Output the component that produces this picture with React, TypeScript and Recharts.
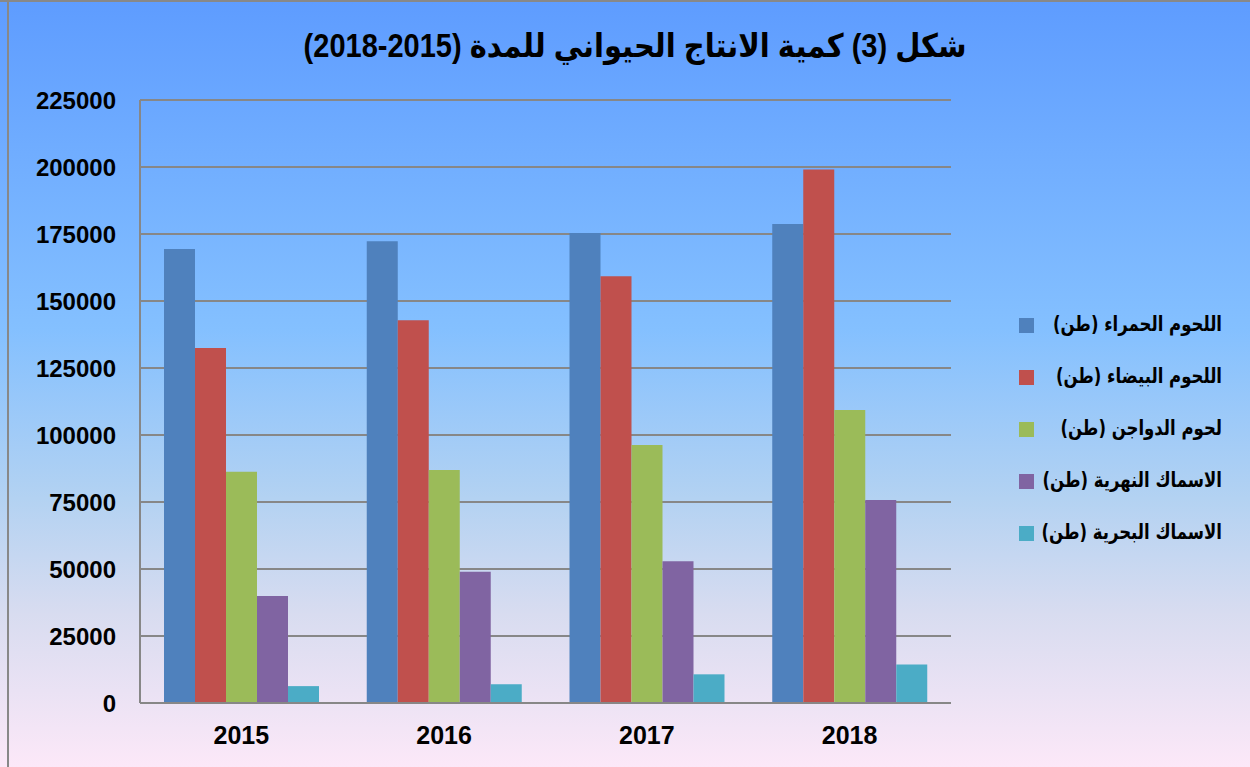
import React from 'react';
import { BarChart, Bar, XAxis, YAxis, CartesianGrid } from 'recharts';

const categories = ['2015', '2016', '2017', '2018'];
const redMeat = [169400, 172300, 175400, 178700];
const whiteMeat = [132500, 142800, 159200, 199100];
const poultry = [86300, 86900, 96300, 109300];
const riverFish = [39900, 49000, 52900, 75700];
const seaFish = [6300, 7000, 10700, 14400];

const seriesNames = [
  'اللحوم الحمراء (طن)',
  'اللحوم البيضاء (طن)',
  'لحوم الدواجن (طن)',
  'الاسماك النهرية (طن)',
  'الاسماك البحرية (طن)',
];
const seriesKeys = ['redMeat', 'whiteMeat', 'poultry', 'riverFish', 'seaFish'];
const seriesColors = ['#4f81bd', '#c0504d', '#9bbb59', '#8064a2', '#4bacc6'];
const yTicks = [0, 25000, 50000, 75000, 100000, 125000, 150000, 175000, 200000, 225000];
const title = 'شكل (3) كمية الانتاج الحيواني للمدة (2015-2018)';

const data = categories.map((year, i) => ({
  year,
  redMeat: redMeat[i],
  whiteMeat: whiteMeat[i],
  poultry: poultry[i],
  riverFish: riverFish[i],
  seaFish: seaFish[i],
}));

const tickFont = { fill: '#000', fontWeight: 'bold' as const, fontFamily: "'Liberation Sans', Arial, sans-serif" };

export default function App() {
  return (
    <div
      style={{
        position: 'absolute',
        left: 0,
        top: 0,
        width: 1250,
        height: 767,
        overflow: 'hidden',
        background:
          'linear-gradient(to bottom, #5e9cff 0%, #70adff 20%, #84c0ff 43%, #b3d2f2 65%, #d8dcf0 80%, #fce8f8 100%)',
      }}
    >
      <div style={{ position: 'absolute', left: 0, top: 0, width: 1250, height: 2, background: '#888' }} />
      <div style={{ position: 'absolute', left: 7, top: 0, width: 2, height: 767, background: '#888' }} />
      <div
        dir="rtl"
        style={{
          position: 'absolute',
          left: 10,
          top: 28,
          width: 1250,
          textAlign: 'center',
          fontFamily: "'Liberation Sans', 'DejaVu Sans', sans-serif",
          fontWeight: 'bold',
          fontSize: 29,
          lineHeight: '36px',
          color: '#000',
          transform: 'scaleY(1.12)',
        }}
      >
        {title}
      </div>
      <BarChart
        width={1250}
        height={767}
        data={data}
        margin={{ top: 100, right: 299, bottom: 0, left: 0 }}
        barCategoryGap={24}
        barGap={0}
      >
        <CartesianGrid vertical={false} stroke="#878787" strokeWidth={2} />
        <XAxis
          dataKey="year"
          height={64}
          axisLine={{ stroke: '#878787', strokeWidth: 2 }}
          tickLine={false}
          tickSize={0}
          tickMargin={23}
          tick={{ ...tickFont, fontSize: 25 }}
        />
        <YAxis
          width={140}
          domain={[0, 225000]}
          ticks={yTicks}
          interval={0}
          axisLine={{ stroke: '#878787', strokeWidth: 2 }}
          tickLine={false}
          tickSize={0}
          tickMargin={24}
          tick={{ ...tickFont, fontSize: 24 }}
        />
        {seriesKeys.map((k, i) => (
          <Bar key={k} dataKey={k} name={seriesNames[i]} fill={seriesColors[i]} isAnimationActive={false} />
        ))}
      </BarChart>
      {seriesNames.map((name, i) => {
        const cy = 325 + i * 52;
        return (
          <React.Fragment key={name}>
            <div
              style={{
                position: 'absolute',
                left: 1019,
                top: cy - 7,
                width: 15,
                height: 15,
                background: seriesColors[i],
              }}
            />
            <div
              dir="rtl"
              style={{
                position: 'absolute',
                right: 28,
                top: cy - 14,
                height: 28,
                lineHeight: '28px',
                whiteSpace: 'nowrap',
                fontFamily: "'DejaVu Sans', sans-serif",
                fontWeight: 'bold',
                fontSize: 16.5,
                color: '#000',
                transform: 'scaleY(1.25)',
              }}
            >
              {name}
            </div>
          </React.Fragment>
        );
      })}
    </div>
  );
}
